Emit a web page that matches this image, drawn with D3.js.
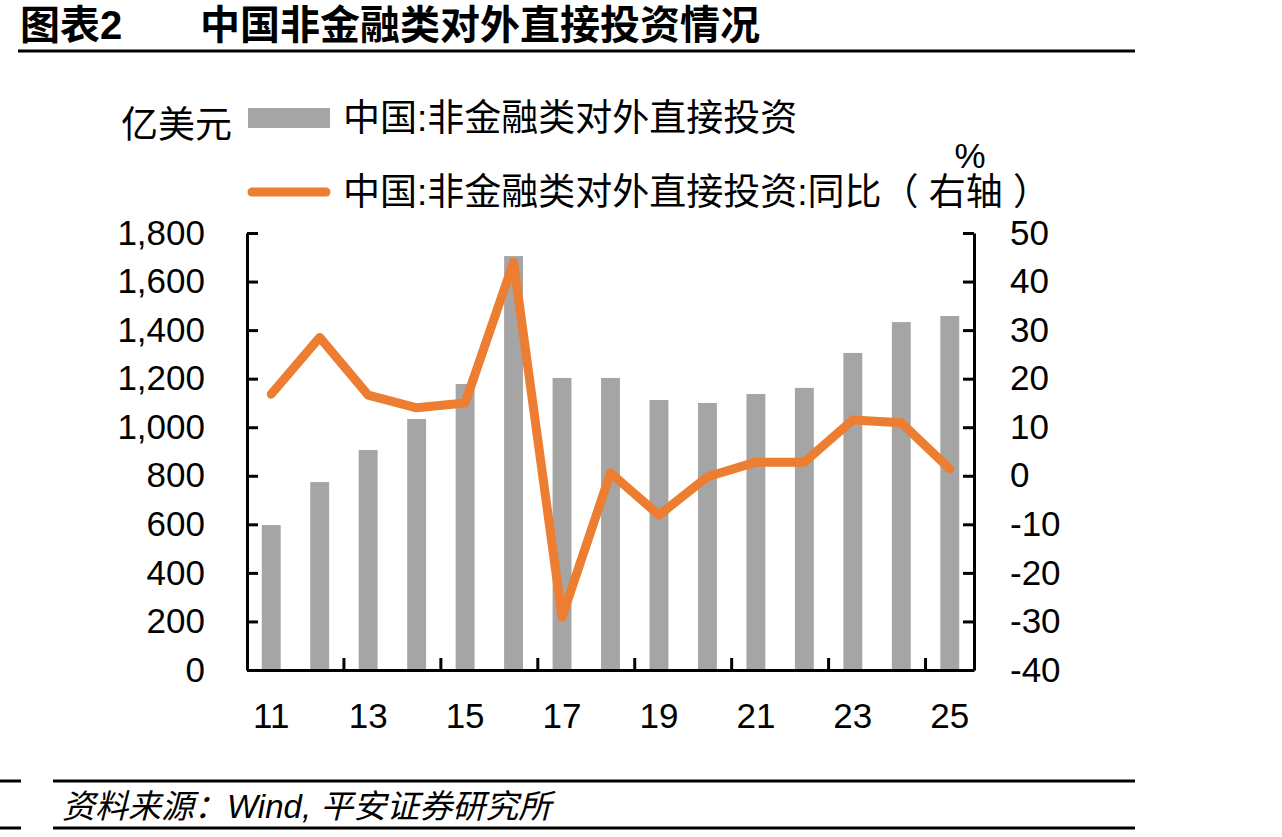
<!DOCTYPE html>
<html>
<head>
<meta charset="utf-8">
<script src="https://cdn.jsdelivr.net/npm/d3@7"></script>
<style>
  body { margin: 0; background: #fff; }
  svg { display: block; }
  .num { font-family: "Liberation Sans", Arial, sans-serif; }
  .cjk { font-family: "Liberation Sans", "Noto Sans CJK SC", sans-serif; }
</style>
</head>
<body>
<div id="chart"></div>
<script>
// data
const years = ["11","12","13","14","15","16","17","18","19","20","21","22","23","24","25"];
const fdi = [597, 774, 906, 1034, 1178, 1705, 1203, 1203, 1112, 1100, 1137, 1162, 1306, 1433, 1458];
const yoy = [16.8, 28.5, 16.6, 14.0, 15.0, 44.0, -29.1, 0.6, -8.1, -0.2, 2.8, 2.8, 11.5, 10.9, 1.4];
const xLabels = ["11","13","15","17","19","21","23","25"];
const xTickMarks = ["13","15","17","19","21","23","25"];
const leftTicks = [0, 200, 400, 600, 800, 1000, 1200, 1400, 1600, 1800];
const rightTicks = [-40, -30, -20, -10, 0, 10, 20, 30, 40, 50];

const W = 1282, H = 837;
const plot = {left: 247, right: 974, top: 233, bottom: 670};
const barColor = "#a5a5a5", lineColor = "#ed7d31";

const svg = d3.select("#chart").append("svg")
  .attr("width", W).attr("height", H);

// title
svg.append("text").attr("class", "cjk")
  .attr("x", 20).attr("y", 25)
  .attr("dominant-baseline", "central")
  .style("font-size", "40px").style("font-weight", "bold")
  .text("图表2");
svg.append("text").attr("class", "cjk")
  .attr("x", 200).attr("y", 25)
  .attr("dominant-baseline", "central")
  .style("font-size", "40px").style("font-weight", "bold")
  .text("中国非金融类对外直接投资情况");
svg.append("line")
  .attr("x1", 18).attr("x2", 1135).attr("y1", 51).attr("y2", 51)
  .attr("stroke", "#000").attr("stroke-width", 3);

const x = d3.scaleBand().domain(years).range([plot.left, plot.right]).padding(0);
const yL = d3.scaleLinear().domain([0, 1800]).range([plot.bottom, plot.top]);
const yR = d3.scaleLinear().domain([-40, 50]).range([plot.bottom, plot.top]);
const barW = x.bandwidth() * 0.39;

// bars
svg.append("g").selectAll("rect")
  .data(years)
  .enter().append("rect")
  .attr("x", function(d) { return x(d) + (x.bandwidth() - barW) / 2; })
  .attr("width", barW)
  .attr("y", function(d, i) { return yL(fdi[i]); })
  .attr("height", function(d, i) { return yL(0) - yL(fdi[i]); })
  .attr("fill", barColor);

// axes
svg.append("g").attr("class", "num")
  .attr("transform", "translate(" + plot.left + ",0)")
  .call(d3.axisLeft(yL).tickValues(leftTicks).tickFormat(d3.format(","))
    .tickSizeInner(-11).tickSizeOuter(0).tickPadding(42));

// plain hyphen for negatives, like the original
svg.append("g").attr("class", "num")
  .attr("transform", "translate(" + plot.right + ",0)")
  .call(d3.axisRight(yR).tickValues(rightTicks).tickFormat(function(d) { return String(d); })
    .tickSizeInner(-11).tickSizeOuter(0).tickPadding(36));

// x tick marks sit on the band edges, so shift by half a band
svg.append("g")
  .attr("transform", "translate(" + (-x.bandwidth() / 2) + "," + plot.bottom + ")")
  .call(d3.axisBottom(x).tickValues(xTickMarks).tickFormat("").tickSizeInner(-12).tickSizeOuter(0))
  .call(function(g) { g.select(".domain").remove(); });

svg.append("g").attr("class", "num")
  .attr("transform", "translate(0," + plot.bottom + ")")
  .call(d3.axisBottom(x).tickValues(xLabels).tickSizeInner(0).tickSizeOuter(0).tickPadding(33));

svg.selectAll(".tick line").attr("stroke", "#000").attr("stroke-width", 3);
svg.selectAll(".domain").attr("stroke", "#000").attr("stroke-width", 3);
svg.selectAll(".tick text").attr("fill", "#000").style("font-size", "35px")
  .style("font-family", "'Liberation Sans', Arial, sans-serif");

// line
const line = d3.line()
  .x(function(d, i) { return x(years[i]) + x.bandwidth() / 2; })
  .y(function(d) { return yR(d); });
svg.append("path")
  .datum(yoy)
  .attr("d", line)
  .attr("fill", "none")
  .attr("stroke", lineColor)
  .attr("stroke-width", 9)
  .attr("stroke-linejoin", "round")
  .attr("stroke-linecap", "round");

// legend
const legendFont = "37px";
svg.append("text").attr("class", "cjk")
  .attr("x", 121).attr("y", 125).attr("dominant-baseline", "central")
  .style("font-size", legendFont).text("亿美元");
svg.append("rect")
  .attr("x", 248).attr("y", 108).attr("width", 82).attr("height", 20)
  .attr("fill", barColor);
svg.append("text").attr("class", "cjk")
  .attr("x", 343).attr("y", 118).attr("dominant-baseline", "central")
  .style("font-size", legendFont).text("中国:非金融类对外直接投资");
svg.append("line")
  .attr("x1", 252).attr("x2", 326).attr("y1", 192).attr("y2", 192)
  .attr("stroke", lineColor).attr("stroke-width", 9).attr("stroke-linecap", "round");
svg.append("text").attr("class", "cjk")
  .attr("x", 343).attr("y", 192).attr("dominant-baseline", "central")
  .style("font-size", legendFont).text("中国:非金融类对外直接投资:同比（ 右轴 ）");
svg.append("text").attr("class", "num")
  .attr("x", 970).attr("y", 155).attr("dominant-baseline", "central")
  .attr("text-anchor", "middle")
  .style("font-size", "35px").text("%");

// source footer
svg.append("line")
  .attr("x1", 0).attr("x2", 21).attr("y1", 781).attr("y2", 781)
  .attr("stroke", "#000").attr("stroke-width", 3);
svg.append("line")
  .attr("x1", 53).attr("x2", 1135).attr("y1", 781).attr("y2", 781)
  .attr("stroke", "#000").attr("stroke-width", 3);
svg.append("line")
  .attr("x1", 0).attr("x2", 21).attr("y1", 828).attr("y2", 828)
  .attr("stroke", "#000").attr("stroke-width", 3);
svg.append("line")
  .attr("x1", 53).attr("x2", 1135).attr("y1", 828).attr("y2", 828)
  .attr("stroke", "#000").attr("stroke-width", 3);
svg.append("text").attr("class", "cjk")
  .attr("x", 62).attr("y", 806).attr("dominant-baseline", "central")
  .style("font-size", "33px").style("font-style", "italic")
  .text("资料来源：Wind, 平安证券研究所");
</script>
</body>
</html>
